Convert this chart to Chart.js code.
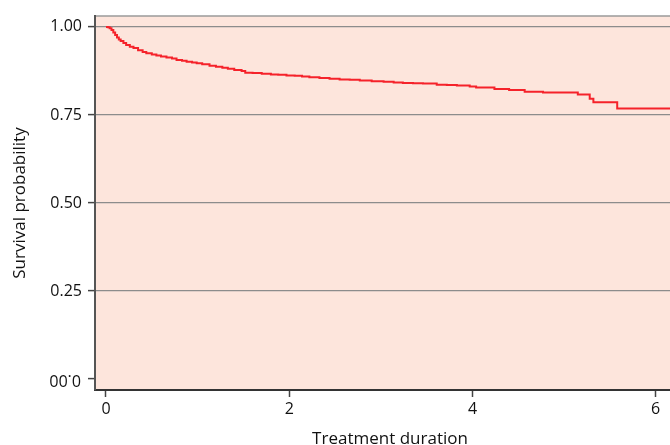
<!DOCTYPE html>
<html>
<head>
<meta charset="utf-8">
<script src="https://cdn.jsdelivr.net/npm/chart.js@4.4.0/dist/chart.umd.min.js"></script>
<style>
  html, body { margin: 0; background: #fff; overflow: hidden; }
</style>
</head>
<body>
<canvas id="graficoSobrevida" width="685" height="445"></canvas>
<script>
// Kaplan-Meier curve (time, survival after the drop)
const tempos = [0, 0.02, 0.04, 0.06, 0.08, 0.10, 0.12, 0.14, 0.16, 0.19, 0.22, 0.26, 0.30, 0.35, 0.40, 0.44, 0.50, 0.55, 0.60, 0.66, 0.72, 0.77, 0.83, 0.88, 0.94, 0.99, 1.05, 1.13, 1.20, 1.27, 1.33, 1.40, 1.48, 1.52, 1.60, 1.70, 1.80, 1.88, 1.97, 2.06, 2.14, 2.22, 2.33, 2.44, 2.55, 2.66, 2.77, 2.90, 3.03, 3.14, 3.24, 3.35, 3.46, 3.61, 3.72, 3.83, 3.97, 4.04, 4.24, 4.40, 4.57, 4.77, 5.15, 5.28, 5.32, 5.58, 6.35];
const sobrevida = [1.0, 0.999, 0.996, 0.991, 0.984, 0.977, 0.970, 0.964, 0.960, 0.954, 0.949, 0.944, 0.940, 0.934, 0.929, 0.925, 0.922, 0.919, 0.916, 0.913, 0.910, 0.906, 0.904, 0.901, 0.899, 0.897, 0.894, 0.890, 0.887, 0.884, 0.881, 0.878, 0.875, 0.870, 0.869, 0.867, 0.865, 0.864, 0.862, 0.861, 0.859, 0.857, 0.855, 0.853, 0.851, 0.850, 0.848, 0.846, 0.844, 0.842, 0.841, 0.840, 0.839, 0.836, 0.835, 0.834, 0.831, 0.828, 0.824, 0.821, 0.816, 0.814, 0.808, 0.796, 0.786, 0.768, 0.768];
const ticksX = [0, 2, 4, 6];
const ticksY = [0, 0.25, 0.5, 0.75, 1];

const fonte = "'Open Sans', sans-serif";

const fundoPlot = {
    id: 'fundoPlot',
    beforeDraw(chart) {
        const { ctx, chartArea: a } = chart;
        ctx.save();
        ctx.fillStyle = '#fde5dc';
        ctx.fillRect(a.left, a.top, a.right - a.left, a.bottom - a.top);
        ctx.strokeStyle = '#9a9a9a';
        ctx.lineWidth = 1.5;
        ctx.beginPath();
        ctx.moveTo(a.left, a.top);
        ctx.lineTo(a.right, a.top);
        ctx.stroke();
        ctx.restore();
    },
    afterDraw(chart) {
        // the 0.00 label is printed upside down in the original
        const { ctx } = chart;
        const y = chart.scales.y.getPixelForValue(0);
        ctx.save();
        ctx.font = '16px ' + fonte;
        ctx.fillStyle = '#111';
        const w = ctx.measureText('0.00').width;
        ctx.translate(81 - w / 2, y);
        ctx.rotate(Math.PI);
        ctx.textAlign = 'center';
        ctx.textBaseline = 'middle';
        ctx.fillText('0.00', 0, 0);
        ctx.restore();
    }
};

const pontos = tempos.map((t, i) => ({ x: t, y: sobrevida[i] }));

new Chart(document.getElementById('graficoSobrevida'), {
    type: 'line',
    data: {
        datasets: [{
            data: pontos,
            borderColor: '#f5222a',
            borderWidth: 2,
            pointRadius: 0,
            stepped: 'before',
            fill: false
        }]
    },
    options: {
        responsive: false,
        animation: false,
        layout: { padding: { top: 16, right: 0, left: 0, bottom: 0 } },
        plugins: { legend: { display: false }, tooltip: { enabled: false } },
        scales: {
            x: {
                type: 'linear',
                min: -0.12,
                max: 6.32,
                afterBuildTicks: s => { s.ticks = ticksX.map(v => ({ value: v })); },
                afterFit: s => { s.height = 55; },
                grid: { display: true, drawOnChartArea: false, tickLength: 7, tickColor: '#444', tickWidth: 1.5 },
                border: { display: true, color: '#333', width: 2 },
                ticks: { color: '#111', font: { family: fonte, size: 16 }, padding: 3, maxRotation: 0 },
                title: { display: true, text: 'Treatment duration', color: '#111', font: { family: fonte, size: 17, lineHeight: 0.7 }, padding: { top: 0, bottom: 0 } }
            },
            y: {
                min: -0.031,
                max: 1.031,
                afterBuildTicks: s => { s.ticks = ticksY.map(v => ({ value: v })); },
                afterFit: s => { s.width = 95; },
                grid: {
                    color: c => c.tick && c.tick.value === 0 ? 'rgba(0,0,0,0)' : '#8c8c8c',
                    lineWidth: 1.2,
                    tickLength: 7,
                    tickColor: '#444',
                    tickWidth: 1.5
                },
                border: { display: true, color: '#555', width: 2 },
                ticks: {
                    color: '#111',
                    font: { family: fonte, size: 16 },
                    padding: 6,
                    callback: v => v === 0 ? '' : v.toFixed(2)
                },
                title: { display: true, text: 'Survival probability', color: '#111', font: { family: fonte, size: 17 }, padding: { top: 10, bottom: 0 } }
            }
        }
    },
    plugins: [fundoPlot]
});
</script>
</body>
</html>
